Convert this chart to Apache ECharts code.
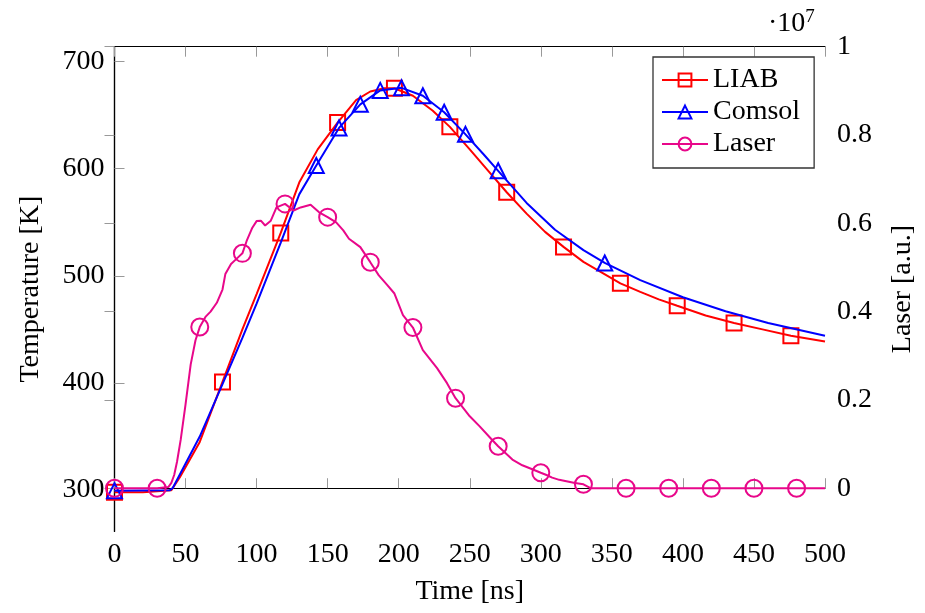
<!DOCTYPE html>
<html>
<head>
<meta charset="utf-8">
<script src="https://cdn.jsdelivr.net/npm/echarts@6/dist/echarts.min.js"></script>
<style>html,body{margin:0;padding:0;background:#fff;}#c{width:925px;height:613px;}</style>
</head>
<body>
<div id="c"></div>
<script>
// ---- data ----
const xTicks = [0, 50, 100, 150, 200, 250, 300, 350, 400, 450, 500];
const tempTicks = [300, 400, 500, 600, 700];
const laserTicks = [0, 0.2, 0.4, 0.6, 0.8, 1];

const liabT = [0, 20, 40, 46, 60, 76, 90, 100, 117, 130, 143, 157, 170, 180, 190, 197, 210, 224, 236, 250, 263, 276, 290, 303, 316, 330, 343, 356, 370, 383, 396, 416, 436, 456, 476, 500];
const liabV = [298, 298, 300, 312, 345, 401, 450, 483, 540, 587, 618, 643, 664, 672, 675, 675, 668, 654, 639, 618, 598, 578, 558, 541, 527, 513, 503, 493, 485, 478, 472, 463, 456, 450, 444, 438.6];
const liabMarks = [0, 76, 117, 157, 197, 236, 276, 316, 356, 396, 436, 476];

const comsolT = [0, 39, 41, 60, 76, 90, 100, 117, 130, 142, 158, 173, 187, 202, 217, 232, 247, 260, 270, 290, 310, 330, 345, 370, 400, 430, 460, 500];
const comsolV = [299.5, 300, 302, 350, 399, 442, 474, 531, 576, 603, 638, 660, 673, 675.4, 668, 652.6, 632, 613, 598, 568, 543, 524, 512, 496, 480, 467, 456, 444];
const comsolMarks = [0, 142, 158, 173, 187, 202, 217, 232, 247, 270, 345];

const laserT = [0, 30, 38, 40, 42, 44, 46.6, 50, 53.6, 57, 60, 64, 67.6, 72, 76, 78, 82, 86, 90, 93, 97, 100, 103, 106, 110, 114, 120, 126, 131, 138, 144, 150, 156, 161, 165, 173, 180, 186, 192, 197, 203, 210, 217, 227, 234, 240, 250, 257, 265, 270, 280, 287, 294, 300, 304, 308, 313, 318, 324, 330, 335, 360, 390, 420, 450, 480, 500];
const laserV = [0, 0, 0.003, 0.012, 0.03, 0.06, 0.11, 0.19, 0.28, 0.335, 0.365, 0.388, 0.40, 0.42, 0.45, 0.485, 0.508, 0.52, 0.532, 0.56, 0.59, 0.605, 0.606, 0.595, 0.606, 0.636, 0.644, 0.629, 0.636, 0.642, 0.625, 0.614, 0.602, 0.584, 0.565, 0.546, 0.512, 0.482, 0.46, 0.441, 0.392, 0.364, 0.313, 0.272, 0.238, 0.204, 0.163, 0.140, 0.112, 0.095, 0.065, 0.052, 0.043, 0.035, 0.030, 0.024, 0.019, 0.016, 0.012, 0.009, 0, 0, 0, 0, 0, 0, 0];
const laserMarks = [0, 30, 60, 90, 120, 150, 180, 210, 240, 270, 300, 330, 360, 390, 420, 450, 480];

// ---- chart ----
const FONT = 'Liberation Serif';
const FS = 28;
function build(ts, vs, marks) {
  return ts.map((t, i) => marks.indexOf(t) >= 0 ? { value: [t, vs[i]] } : { value: [t, vs[i]], symbol: 'none' });
}
function mkSeries(name, color, symbol, size, ts, vs, marks, yIdx, z) {
  return {
    name: name, type: 'line', yAxisIndex: yIdx, z: z,
    data: build(ts, vs, marks),
    symbol: symbol, symbolSize: size, showSymbol: true, showAllSymbol: true,
    lineStyle: { color: color, width: 2 },
    itemStyle: { color: 'rgba(0,0,0,0)', borderColor: color, borderWidth: 2 },
    emphasis: { disabled: true },
    animation: false, clip: false
  };
}
function tickStyle(extra) {
  return Object.assign({ show: true, inside: true, length: 10, lineStyle: { color: '#999', width: 1 } }, extra || {});
}
const chart = echarts.init(document.getElementById('c'), null, { renderer: 'canvas' });
chart.setOption({
  animation: false,
  backgroundColor: '#fff',
  textStyle: { fontFamily: FONT },
  grid: { left: 114.5, right: 98.3, top: 46.7, bottom: 81.5, containLabel: false },
  legend: {
    orient: 'vertical', left: 653, top: 57,
    data: ['LIAB', 'Comsol', 'Laser'],
    itemWidth: 46, itemHeight: 16, itemGap: 0,
    padding: [7, 14, 8, 8],
    borderColor: '#333', borderWidth: 1.3, backgroundColor: '#fff',
    textStyle: { fontFamily: FONT, fontSize: FS, color: '#000', lineHeight: 32 },
    selectedMode: false
  },
  xAxis: [{
    type: 'value', position: 'bottom', min: 0, max: 500, interval: 50,
    name: 'Time [ns]', nameLocation: 'middle', nameGap: 46,
    nameTextStyle: { fontFamily: FONT, fontSize: FS, color: '#000' },
    axisLine: { show: true, lineStyle: { color: '#000', width: 1.2 } },
    axisTick: tickStyle({ customValues: xTicks }),
    axisLabel: { fontFamily: FONT, fontSize: FS, color: '#000', margin: 9, customValues: xTicks, formatter: v => String(v) },
    splitLine: { show: false }
  }, {
    type: 'value', position: 'top', min: 0, max: 500, interval: 50,
    axisLine: { show: true, lineStyle: { color: '#000', width: 1.2 } },
    axisTick: tickStyle({ customValues: xTicks }),
    axisLabel: { show: false },
    splitLine: { show: false }
  }],
  yAxis: [{
    type: 'value', position: 'left', min: 261.4, max: 713.8, splitNumber: 5,
    name: 'Temperature [K]', nameLocation: 'middle', nameGap: 70, nameRotate: 90,
    nameTextStyle: { fontFamily: FONT, fontSize: FS, color: '#000' },
    axisLine: { show: true, lineStyle: { color: '#000', width: 1.2 } },
    axisTick: tickStyle({ customValues: tempTicks }),
    axisLabel: { fontFamily: FONT, fontSize: FS, color: '#000', margin: 10, customValues: tempTicks, formatter: v => String(v) },
    splitLine: { show: false }
  }, {
    type: 'value', position: 'right', min: -0.098, max: 1, splitNumber: 5,
    name: 'Laser [a.u.]', nameLocation: 'middle', nameGap: 64, nameRotate: 90,
    nameTextStyle: { fontFamily: FONT, fontSize: FS, color: '#000' },
    axisLine: { show: true, lineStyle: { color: '#000', width: 1.2 } },
    axisTick: tickStyle({ customValues: laserTicks }),
    axisLabel: { fontFamily: FONT, fontSize: FS, color: '#000', margin: 12, customValues: laserTicks, formatter: v => String(+v.toFixed(2)) },
    splitLine: { show: false }
  }],
  graphic: [{
    type: 'text', left: 768, top: 8, z: 100,
    style: {
      text: '{a|·10}{b|7}',
      rich: {
        a: { fontFamily: FONT, fontSize: FS, fill: '#000', verticalAlign: 'bottom', lineHeight: 30 },
        b: { fontFamily: FONT, fontSize: 19, fill: '#000', verticalAlign: 'top', lineHeight: 30 }
      }
    }
  }],
  series: [
    mkSeries('LIAB', '#ff0000', 'rect', 15, liabT, liabV, liabMarks, 0, 2),
    mkSeries('Comsol', '#0000ff', 'triangle', 15, comsolT, comsolV, comsolMarks, 0, 3),
    mkSeries('Laser', '#e8078a', 'circle', 17, laserT, laserV, laserMarks, 1, 4)
  ]
});
</script>
</body>
</html>
